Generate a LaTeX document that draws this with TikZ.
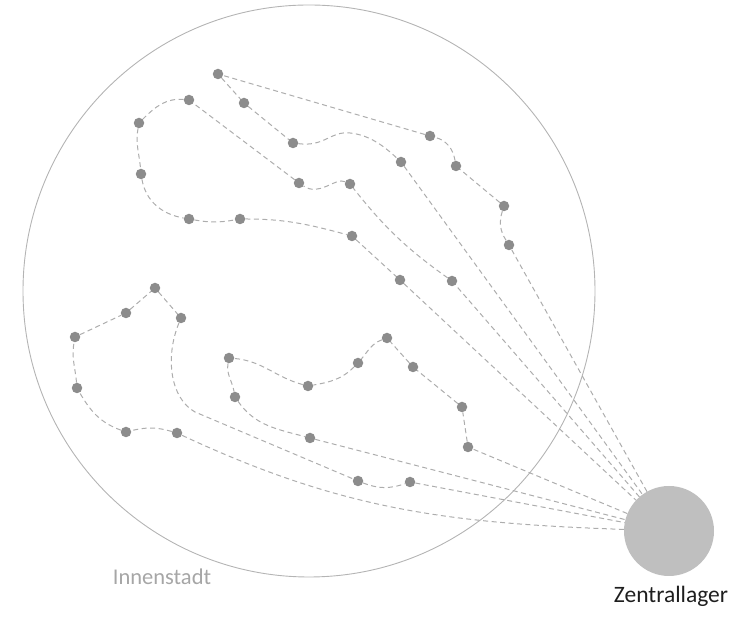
\documentclass[tikz,border=0pt]{standalone}
\usepackage{fontspec}
\setmainfont{Carlito}
\definecolor{dotgray}{HTML}{8C8C8C}
\definecolor{linegray}{HTML}{ADADAD}
\definecolor{ringgray}{HTML}{B4B4B4}
\definecolor{depotgray}{HTML}{BFBFBF}
\definecolor{labelgray}{HTML}{A6A6A6}
\definecolor{labeldark}{HTML}{1E1E1E}
\begin{document}
\begin{tikzpicture}[x=1pt,y=1pt,
  stop/.style={circle,fill=dotgray,inner sep=0pt,minimum size=10.5pt},
  route/.style={draw=linegray,line width=1pt,dash pattern=on 5pt off 3.5pt},
  ring/.style={draw=ringgray,line width=0.9pt},
  depotstyle/.style={circle,fill=depotgray,inner sep=0pt,minimum size=90pt}]
\useasboundingbox (0,0) rectangle (747,617);
% city
\node[ring,circle,minimum size=572pt,inner sep=0pt] (city) at (309,326) {};
\node[text=labelgray,anchor=base,font=\fontsize{22.5}{27}\selectfont] (citylabel) at (162,32) {Innenstadt};
% depot
\node[depotstyle] (depot) at (669,86) {};
\node[text=labeldark,anchor=base,font=\fontsize{23.5}{28}\selectfont] (depotlabel) at (671,14) {Zentrallager};
% stops
\node[stop] (A1) at (218,543) {};
\node[stop] (A2) at (244,514) {};
\node[stop] (A3) at (293,474) {};
\node[stop] (A4) at (430,481) {};
\node[stop] (A5) at (456,451) {};
\node[stop] (A6) at (504,411) {};
\node[stop] (A7) at (509,372) {};
\node[stop] (A8) at (401,455) {};
\node[stop] (B1) at (189,517) {};
\node[stop] (B2) at (139,494) {};
\node[stop] (B3) at (141,443) {};
\node[stop] (B4) at (189,398) {};
\node[stop] (B5) at (240,398) {};
\node[stop] (B6) at (352,381) {};
\node[stop] (B7) at (299,434) {};
\node[stop] (B8) at (350,433) {};
\node[stop] (C1) at (400,337) {};
\node[stop] (C2) at (452,336) {};
\node[stop] (D1) at (155,329) {};
\node[stop] (D2) at (126,304) {};
\node[stop] (D3) at (75,280) {};
\node[stop] (D4) at (77,229) {};
\node[stop] (D5) at (126,185) {};
\node[stop] (D6) at (177,184) {};
\node[stop] (D7) at (181,299) {};
\node[stop] (E1) at (358,136) {};
\node[stop] (E2) at (410,135) {};
\node[stop] (F1) at (229,259) {};
\node[stop] (F2) at (235,220) {};
\node[stop] (F3) at (310,179) {};
\node[stop] (F4) at (308,231) {};
\node[stop] (F5) at (358,254) {};
\node[stop] (F6) at (387,279) {};
\node[stop] (F7) at (413,250) {};
\node[stop] (F8) at (462,210) {};
\node[stop] (F9) at (468,170) {};
% route 1
\draw[route] (depot) -- (A7);
\draw[route] (A7) to[bend left=25] (A6);
\draw[route] (A6) -- (A5);
\draw[route] (A5) to[out=100,in=-15] (A4);
\draw[route] (A4) -- (A1);
\draw[route] (A1) -- (A2);
\draw[route] (A2) -- (A3);
\draw[route] (A3) .. controls (325,470) and (330,486) .. (350,484) .. controls (370,482) and (385,470) .. (A8);
\draw[route] (A8) -- (depot);
% route 2
\draw[route] (depot) -- (C2);
\draw[route] (C2) to[bend left=8] (B8);
\draw[route] (B8) .. controls (335,440) and (320,420) .. (B7);
\draw[route] (B7) -- (B1);
\draw[route] (B1) to[out=175,in=45] (B2);
\draw[route] (B2) to[out=-100,in=95] (B3);
\draw[route] (B3) to[out=-80,in=170] (B4);
\draw[route] (B4) to[out=-10,in=190] (B5);
\draw[route] (B5) to[out=0,in=165] (B6);
\draw[route] (B6) -- (C1);
\draw[route] (C1) -- (depot);
% route 3
\draw[route] (depot) to[out=178,in=-25] (D6);
\draw[route] (D6) to[bend right=15] (D5);
\draw[route] (D5) to[out=160,in=-60] (D4);
\draw[route] (D4) to[out=95,in=-100] (D3);
\draw[route] (D3) -- (D2);
\draw[route] (D2) -- (D1);
\draw[route] (D1) -- (D7);
\draw[route] (D7) .. controls (165,260) and (170,219) .. (195,205) -- (E1);
\draw[route] (E1) to[bend right=20] (E2);
\draw[route] (E2) -- (depot);
% route 4
\draw[route] (depot) -- (F9);
\draw[route] (F9) -- (F8);
\draw[route] (F8) -- (F7);
\draw[route] (F7) -- (F6);
\draw[route] (F6) to[out=-160,in=50] (F5);
\draw[route] (F5) to[out=-135,in=10] (F4);
\draw[route] (F4) to[out=165,in=-5] (F1);
\draw[route] (F1) to[out=-100,in=100] (F2);
\draw[route] (F2) to[out=-55,in=165] (F3);
\draw[route] (F3) -- (depot);
\end{tikzpicture}
\end{document}
